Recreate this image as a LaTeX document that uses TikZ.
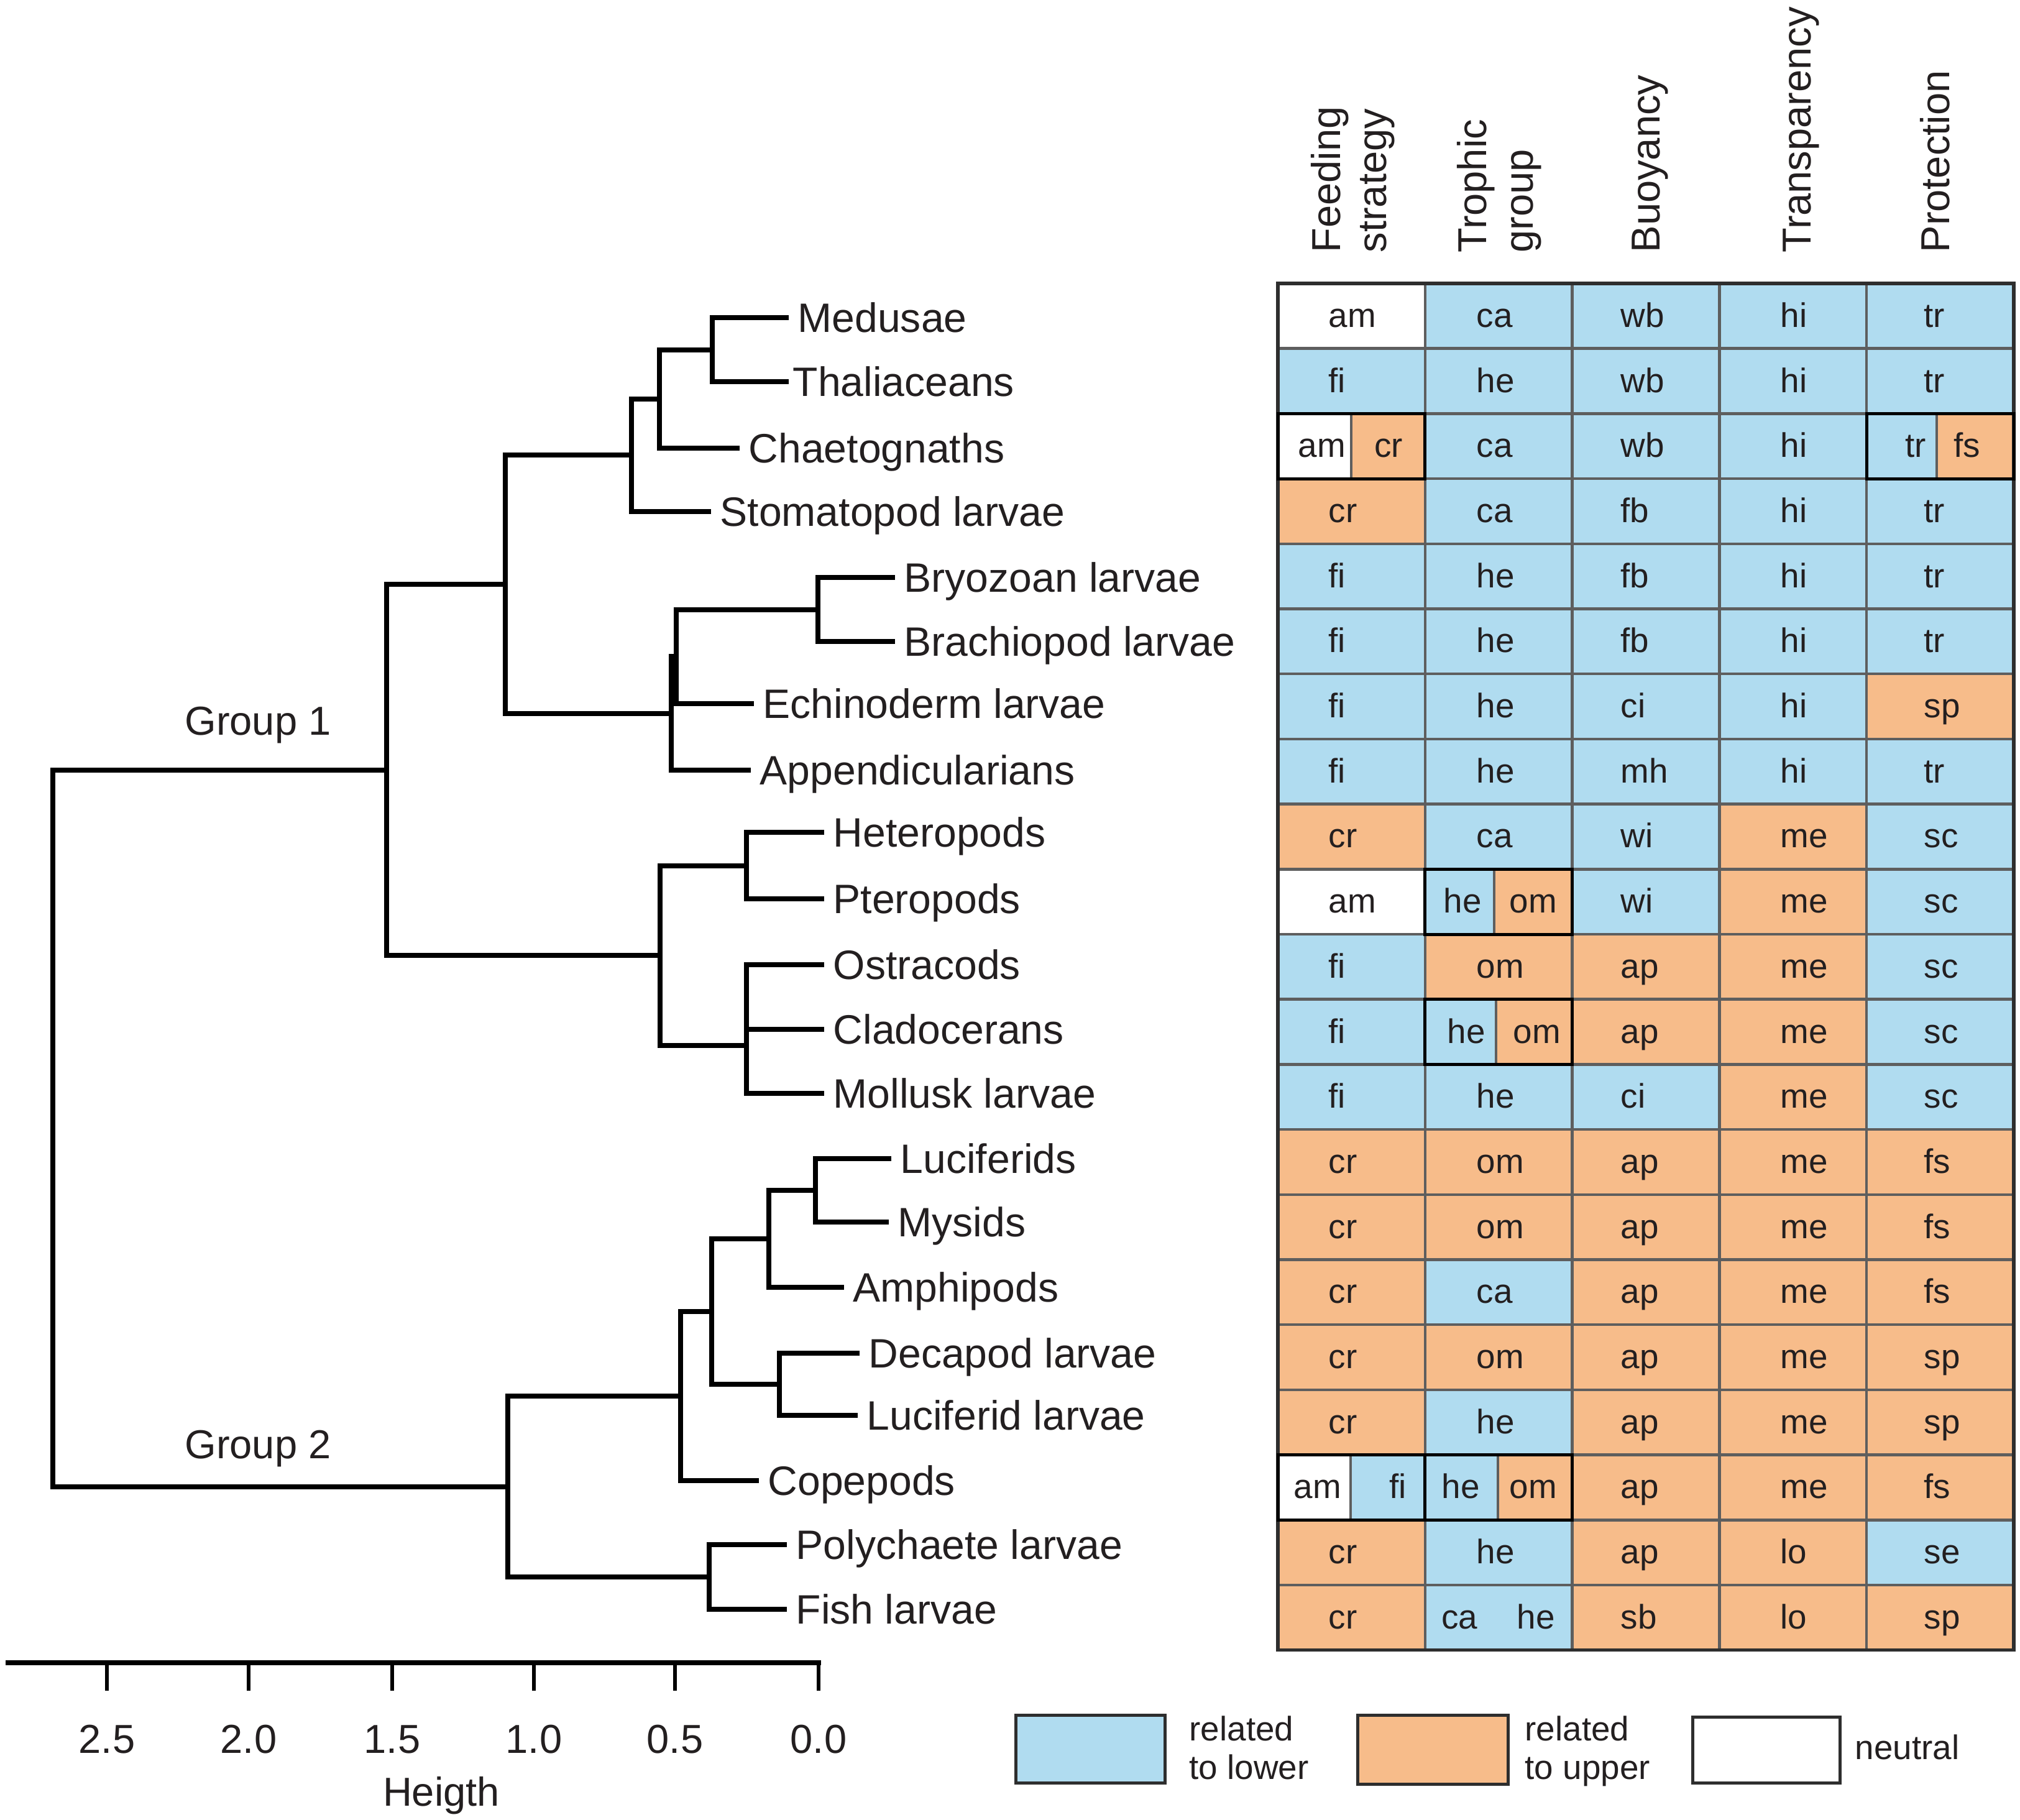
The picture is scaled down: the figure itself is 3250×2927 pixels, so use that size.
\documentclass[tikz,border=0pt]{standalone}
\usepackage{fontspec}
\setmainfont{Liberation Sans}
\definecolor{cblue}{HTML}{B0DCF0}
\definecolor{corange}{HTML}{F7BC8A}
\definecolor{ink}{HTML}{231F20}
\definecolor{gridgray}{HTML}{5E5E5E}
\definecolor{frame}{HTML}{2E2E2E}
\newcommand\tcell[5]{%
  \fill[#3] ({2056+#1*236.8},{456+#2*104.7}) rectangle ++(236.8,104.7);
  \node[celltext,anchor=base west] (t#1-#2) at (#5,{456+(#2+0.5)*104.7+18}) {#4};}
\newcommand\tsplit[9]{%
  \fill[#4] ({2056+#1*236.8},{456+#2*104.7}) rectangle (#3,{456+(#2+1)*104.7});
  \fill[#7] (#3,{456+#2*104.7}) rectangle ({2056+(#1+1)*236.8},{456+(#2+1)*104.7});
  \draw[gridline] (#3,{456+#2*104.7}) -- (#3,{456+(#2+1)*104.7});
  \node[celltext,anchor=base] (s#1-#2a) at (#6,{456+(#2+0.5)*104.7+18}) {#5};
  \node[celltext,anchor=base] (s#1-#2b) at (#9,{456+(#2+0.5)*104.7+18}) {#8};}
\newcommand\splitframe[2]{%
  \draw[splitline] ({2056+#1*236.8},{456+#2*104.7}) rectangle ++(236.8,104.7);}
\begin{document}
\begin{tikzpicture}[x=0.1mm,y=-0.1mm,
  every node/.style={text=ink, inner sep=0pt},
  branch/.style={line width=0.8mm, draw=black, line join=miter},
  leaf/.style={anchor=west, inner xsep=1.4mm, inner ysep=0pt, text height=13.5pt, text depth=0pt, font=\fontsize{18.8}{22}\selectfont},
  celltext/.style={font=\fontsize{15.6}{18}\selectfont},
  hdr/.style={font=\fontsize{18.5}{22}\selectfont, rotate=90, anchor=base west},
  grp/.style={font=\fontsize{18.5}{22}\selectfont, anchor=base},
  axislab/.style={font=\fontsize{18.5}{22}\selectfont, anchor=base},
  legtext/.style={font=\fontsize{15.6}{18}\selectfont, anchor=base west},
  gridline/.style={line width=0.45mm, draw=gridgray},
  splitline/.style={line width=0.5mm, draw=black},
  legbox/.style={draw=frame, line width=0.5mm, anchor=north west, minimum width=24mm, minimum height=10.9mm}
]
\fill[white] (0,0) rectangle (3250,2927);
\useasboundingbox (0,0) rectangle (3250,2927);

% ---------------- leaves ----------------
\node[leaf] (med) at (1269,511) {Medusae};
\node[leaf, inner xsep=0.6mm] (tha) at (1269,614) {Thaliaceans};
\node[leaf] (cha) at (1190,721) {Chaetognaths};
\node[leaf] (sto) at (1144,823) {Stomatopod larvae};
\node[leaf] (bry) at (1440,929) {Bryozoan larvae};
\node[leaf] (bra) at (1440,1032) {Brachiopod larvae};
\node[leaf] (ech) at (1213,1132) {Echinoderm larvae};
\node[leaf] (app) at (1208,1239) {Appendicularians};
\node[leaf] (het) at (1326,1339) {Heteropods};
\node[leaf] (pte) at (1326,1446) {Pteropods};
\node[leaf] (ost) at (1326,1552) {Ostracods};
\node[leaf] (cla) at (1326,1656) {Cladocerans};
\node[leaf] (mol) at (1326,1759) {Mollusk larvae};
\node[leaf] (lucs) at (1434,1864) {Luciferids};
\node[leaf] (mys) at (1430,1966) {Mysids};
\node[leaf] (amp) at (1358,2071) {Amphipods};
\node[leaf] (dec) at (1383,2177) {Decapod larvae};
\node[leaf] (lucl) at (1380,2277) {Luciferid larvae};
\node[leaf] (cop) at (1221,2382) {Copepods};
\node[leaf] (pol) at (1266,2485) {Polychaete larvae};
\node[leaf] (fis) at (1266,2589) {Fish larvae};

% ---------------- dendrogram ----------------
\coordinate (jMT) at (1146,562.5);
\draw[branch] (med.west) -| (jMT) |- (tha.west);
\coordinate (jMTC) at (1061,641.75);
\draw[branch] (jMT) -| (jMTC) |- (cha.west);
\coordinate (jMTCS) at (1016,732.4);
\draw[branch] (jMTC) -| (jMTCS) |- (sto.west);
\coordinate (jBB) at (1316,980.5);
\draw[branch] (bry.west) -| (jBB) |- (bra.west);
\coordinate (jBBE) at (1088,1056);
\draw[branch] (jBB) -| (jBBE) |- (ech.west);
\coordinate (jBBEA) at (1080,1147.5);
\draw[branch] (jBBE) -| (jBBEA) |- (app.west);
\coordinate (jA) at (813,940);
\draw[branch] (jMTCS) -| (jA) |- (jBBEA);
\coordinate (jHP) at (1201,1392.5);
\draw[branch] (het.west) -| (jHP) |- (pte.west);
\coordinate (jOC) at (1201,1604);
\draw[branch] (ost.west) -| (jOC) |- (cla.west);
\coordinate (jOCM) at (1201,1681.5);
\draw[branch] (jOC) -| (jOCM) |- (mol.west);
\coordinate (jB) at (1062,1537);
\draw[branch] (jHP) -| (jB) |- (jOCM);
\coordinate (jG1) at (622,1238.5);
\draw[branch] (jA) -| (jG1) |- (jB);
\coordinate (jLM) at (1312,1915);
\draw[branch] (lucs.west) -| (jLM) |- (mys.west);
\coordinate (jLMA) at (1237,1993);
\draw[branch] (jLM) -| (jLMA) |- (amp.west);
\coordinate (jDL) at (1254,2227);
\draw[branch] (dec.west) -| (jDL) |- (lucl.west);
\coordinate (jLD) at (1145,2110);
\draw[branch] (jLMA) -| (jLD) |- (jDL);
\coordinate (jC) at (1095,2246);
\draw[branch] (jLD) -| (jC) |- (cop.west);
\coordinate (jPF) at (1141,2537);
\draw[branch] (pol.west) -| (jPF) |- (fis.west);
\coordinate (jG2) at (817,2391.5);
\draw[branch] (jC) -| (jG2) |- (jPF);
\coordinate (root) at (85,1815);
\draw[branch] (jG1) -| (root) |- (jG2);

\node[grp] (g1) at (415,1182) {Group 1};
\node[grp] (g2) at (415,2346) {Group 2};

% ---------------- axis ----------------
\coordinate (axl) at (9,2675);
\coordinate (axr) at (1321,2675);
\draw[line width=0.8mm, draw=black] (axl) -- (axr);
\foreach \x/\l [count=\i] in {172/2.5,400/2.0,631/1.5,859/1.0,1086/0.5,1317/0.0}{
  \draw[line width=0.65mm, draw=black] (\x,2675) -- (\x,2720);
  \node[axislab] (ax\i) at (\x,2820) {\l};
}
\node[axislab] (htitle) at (710,2905) {Heigth};

% ---------------- headers ----------------
\node[hdr] (h1a) at (2156,407) {Feeding};
\node[hdr] (h1b) at (2230,407) {strategy};
\node[hdr] (h2a) at (2391,407) {Trophic};
\node[hdr] (h2b) at (2466,407) {group};
\node[hdr] (h3) at (2670,407) {Buoyancy};
\node[hdr] (h4) at (2913,407) {Transparency};
\node[hdr] (h5) at (3136,407) {Protection};

% ---------------- table ----------------
\foreach \r/\a/\ta/\b/\tb/\c/\tc/\d/\td/\e/\te in {
 0/white/am/cblue/ca/cblue/wb/cblue/hi/cblue/tr,
 1/cblue/fi/cblue/he/cblue/wb/cblue/hi/cblue/tr,
 2/white//cblue/ca/cblue/wb/cblue/hi/white/,
 3/corange/cr/cblue/ca/cblue/fb/cblue/hi/cblue/tr,
 4/cblue/fi/cblue/he/cblue/fb/cblue/hi/cblue/tr,
 5/cblue/fi/cblue/he/cblue/fb/cblue/hi/cblue/tr,
 6/cblue/fi/cblue/he/cblue/ci/cblue/hi/corange/sp,
 7/cblue/fi/cblue/he/cblue/mh/cblue/hi/cblue/tr,
 8/corange/cr/cblue/ca/cblue/wi/corange/me/cblue/sc,
 9/white/am/white//cblue/wi/corange/me/cblue/sc,
 10/cblue/fi/corange/om/corange/ap/corange/me/cblue/sc,
 11/cblue/fi/white//corange/ap/corange/me/cblue/sc,
 12/cblue/fi/cblue/he/cblue/ci/corange/me/cblue/sc,
 13/corange/cr/corange/om/corange/ap/corange/me/corange/fs,
 14/corange/cr/corange/om/corange/ap/corange/me/corange/fs,
 15/corange/cr/cblue/ca/corange/ap/corange/me/corange/fs,
 16/corange/cr/corange/om/corange/ap/corange/me/corange/sp,
 17/corange/cr/cblue/he/corange/ap/corange/me/corange/sp,
 18/white//white//corange/ap/corange/me/corange/fs,
 19/corange/cr/cblue/he/corange/ap/corange/lo/cblue/se,
 20/corange/cr/white//corange/sb/corange/lo/corange/sp}{
  \tcell{0}{\r}{\a}{\ta}{2137}
  \tcell{1}{\r}{\b}{\tb}{2375}
  \tcell{2}{\r}{\c}{\tc}{2607}
  \tcell{3}{\r}{\d}{\td}{2864}
  \tcell{4}{\r}{\e}{\te}{3095}
}
% split cells
\tsplit{0}{2}{2174}{white}{am}{2127}{corange}{cr}{2234}
\tsplit{4}{2}{3116}{cblue}{tr}{3082}{corange}{fs}{3165}
\tsplit{1}{9}{2404}{cblue}{he}{2353}{corange}{om}{2467}
\tsplit{1}{11}{2407}{cblue}{he}{2359}{corange}{om}{2473}
\tsplit{0}{18}{2173}{white}{am}{2120}{cblue}{fi}{2249}
\tsplit{1}{18}{2410}{cblue}{he}{2350}{corange}{om}{2467}
% fish trophic: blue with two labels
\fill[cblue] ({2056+236.8},{456+20*104.7}) rectangle ++(236.8,104.7);
\node[celltext,anchor=base] (s1-20a) at (2348,{456+20.5*104.7+18}) {ca};
\node[celltext,anchor=base] (s1-20b) at (2471,{456+20.5*104.7+18}) {he};

% grid
\foreach \i in {1,...,4}{
  \draw[gridline] ({2056+\i*236.8},456) -- ({2056+\i*236.8},2654.7);
}
\foreach \j in {1,...,20}{
  \draw[gridline] (2056,{456+\j*104.7}) -- (3240,{456+\j*104.7});
}
\draw[line width=0.55mm, draw=frame] (2056,456) rectangle (3240,2654.7);
\splitframe{0}{2}
\splitframe{4}{2}
\splitframe{1}{9}
\splitframe{1}{11}
\splitframe{0}{18}
\splitframe{1}{18}

% ---------------- legend ----------------
\node[legbox, fill=cblue] (lb) at (1632,2757) {};
\node[legbox, fill=corange, minimum width=24.2mm, minimum height=11.1mm] (lo) at (2182,2757) {};
\node[legbox, fill=white, minimum width=23.7mm, minimum height=10.6mm] (lw) at (2721,2760) {};
\node[legtext] (lbt1) at (1913,2800) {related};
\node[legtext] (lbt2) at (1913,2862) {to lower};
\node[legtext] (lot1) at (2453,2800) {related};
\node[legtext] (lot2) at (2453,2862) {to upper};
\node[legtext] (lwt) at (2984,2830) {neutral};
\end{tikzpicture}
\end{document}
